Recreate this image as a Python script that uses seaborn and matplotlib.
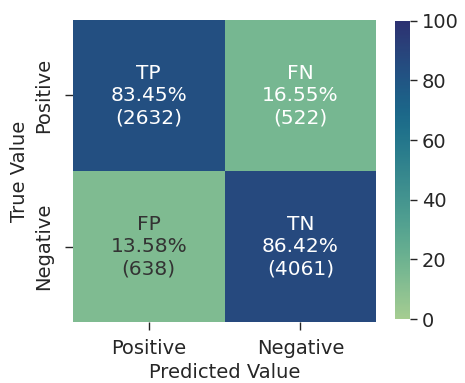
import numpy as np
import pandas as pd
import matplotlib
matplotlib.use("Agg")
import matplotlib.pyplot as plt
import seaborn as sns

# Confusion matrix contents
classes = ["Positive", "Negative"]
cell_names = ["TP", "FN", "FP", "TN"]
percentages = [83.45, 16.55, 13.58, 86.42]
counts = [2632, 522, 638, 4061]
text_colors = ["white", "white", "#333333", "white"]

sns.set_style("white")
plt.rcParams["font.family"] = ["DejaVu Sans"]

values = pd.DataFrame(np.array(percentages).reshape(2, 2), index=classes, columns=classes)
labels = np.array([f"{n}\n{p:.2f}%\n({c})" for n, p, c in zip(cell_names, percentages, counts)]).reshape(2, 2)

fig = plt.figure(figsize=(4.65, 3.83), dpi=100)
ax = fig.add_axes([0.157, 0.159, 0.652, 0.789])
cax = fig.add_axes([0.849, 0.167, 0.033, 0.779])

sns.heatmap(values, ax=ax, cbar_ax=cax, cmap="crest", vmin=0, vmax=100,
            annot=labels, fmt="", annot_kws={"fontsize": 14.5, "linespacing": 1.22})

for t, col in zip(ax.texts, text_colors):
    t.set_color(col)

ax.set_xlabel("Predicted Value", fontsize=14, labelpad=4)
ax.set_ylabel("True Value", fontsize=14, labelpad=4)
ax.tick_params(axis="x", labelsize=14, length=6, width=1, bottom=True, pad=6)
ax.tick_params(axis="y", labelsize=14, length=6, width=1, left=True, pad=8)
ax.set_yticklabels(classes, rotation=90, va="center")
cax.tick_params(labelsize=14, length=5, width=1, right=True)
cax.set_yticks([0, 20, 40, 60, 80, 100])

fig.savefig("out.png", dpi=100)
